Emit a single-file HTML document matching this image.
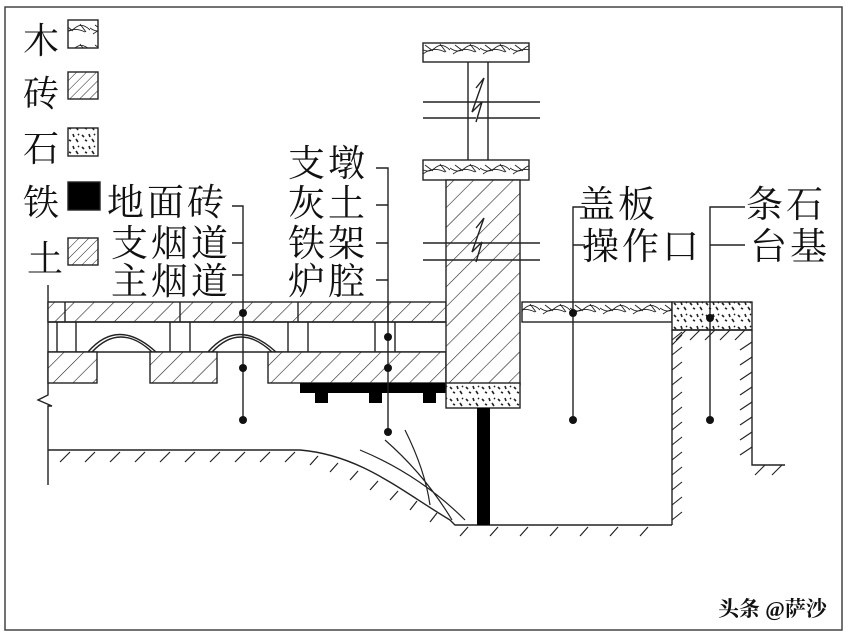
<!DOCTYPE html>
<html><head><meta charset="utf-8"><style>
html,body{margin:0;padding:0;background:#fff;}
svg{display:block;}
text{font-family:"Liberation Serif","Noto Serif CJK SC",serif;fill:#111;}
</style></head><body>
<svg width="850" height="638" viewBox="0 0 850 638" xmlns="http://www.w3.org/2000/svg">
<defs>
<pattern id="h" width="14" height="14" patternUnits="userSpaceOnUse" patternTransform="rotate(45)">
<rect width="14" height="14" fill="#fff"/><line x1="0" y1="0" x2="0" y2="14" stroke="#222" stroke-width="1.2"/></pattern>
<pattern id="hs" width="7" height="7" patternUnits="userSpaceOnUse" patternTransform="rotate(45)">
<rect width="7" height="7" fill="#fff"/><line x1="0" y1="0" x2="0" y2="7" stroke="#222" stroke-width="1"/></pattern>
<pattern id="st" width="16" height="12" patternUnits="userSpaceOnUse">
<rect width="16" height="12" fill="#fff"/><path d="M2 3l2 2M9 2l1 3M5 8l2 1M12 7l2 3M14 2l1 1" stroke="#222" stroke-width="1.6"/></pattern>
<pattern id="wd" width="30" height="20" patternUnits="userSpaceOnUse">
<rect width="30" height="20" fill="#fff"/><path d="M0 8q8 6 15 0t15 2M3 14q10-8 22-2M5 5l8 6M20 4l6 8" stroke="#222" stroke-width="0.9" fill="none"/></pattern>
</defs>
<g stroke="#222" stroke-width="1.4" fill="none">
<rect x="5" y="7" width="837" height="623" stroke="#444" stroke-width="1.5"/>
<rect x="68" y="20" width="30" height="28" fill="url(#wd)"/>
<rect x="68" y="72" width="30" height="27" fill="url(#hs)"/>
<rect x="68" y="128" width="30" height="28" fill="url(#st)"/>
<rect x="68" y="182" width="32" height="28" fill="#000"/>
<rect x="68" y="238" width="30" height="27" fill="url(#hs)"/>
<path d="M48 285V395l-10 5 14 6h-4V485"/>
<rect x="48" y="302" width="398" height="20" fill="url(#h)"/>
<path d="M65 302v20M180 302v20M298 302v20M388 302v20"/>
<path d="M48 322H446M48 352H446" />
<path d="M57 322v30M76 322v30M170 322v30M190 322v30M288 322v30M308 322v30M375 322v30M395 322v30"/>
<rect x="48" y="352" width="49" height="31" fill="url(#h)"/>
<rect x="150" y="352" width="67" height="31" fill="url(#h)"/>
<rect x="268" y="352" width="178" height="31" fill="url(#h)"/>
<path d="M88 352q30-35 68 0M92 352q28-30 60 0M208 352q30-35 68 0M212 352q28-30 60 0"/>
<path d="M300 383h146v10H436v10h-13v-10H382v10h-13v-10H328v10h-13v-10h-15z" fill="#000" stroke="none"/>
<path d="M48 450H300C360 455 400 490 450 520L455 525H672"/>
<path d="M60 462l10-10M85 462l10-10M110 462l10-10M135 462l10-10M160 462l10-10M185 462l10-10M210 462l10-10M235 462l10-10M260 462l10-10M285 462l10-10M310 465l8-9M330 472l8-9M350 480l8-9M370 490l8-9M390 500l8-9M410 510l7-9M430 522l7-9M460 536l8-9M490 536l8-9M520 536l8-9M550 536l8-9M580 536l8-9M610 536l8-9M640 536l8-9" stroke-width="1.2"/>
<path d="M360 450q60 25 105 70M385 440q40 35 67 80M405 430q20 40 25 75" stroke-width="1.2"/>
<rect x="423" y="43" width="106" height="19" fill="url(#wd)"/>
<path d="M468 62V160M488 62V160"/>
<rect x="423" y="160" width="106" height="20" fill="url(#wd)"/>
<path d="M423 102H540M423 118H540"/>
<path d="M476 88l8-10-12 34 10-10-6 20" fill="#fff"/>
<rect x="446" y="180" width="74" height="205" fill="url(#h)"/>
<path d="M423 243H540M423 260H540"/>
<path d="M476 228l8-10-12 34 10-10-6 20"/>
<rect x="446" y="383" width="74" height="25" fill="url(#st)"/>
<rect x="477" y="408" width="13" height="117" fill="#000" stroke="none"/>
<rect x="522" y="302" width="150" height="20" fill="url(#wd)"/>
<rect x="672" y="302" width="80" height="28" fill="url(#st)"/>
<path d="M672 330V525M752 330V465H785M672 330H752"/>
<path d="M676 340l10-10M690 340l10-10M705 340l10-10M720 340l10-10M735 340l10-10M672 345l10-10" stroke-width="1.1"/>
<path d="M672 340l10-8M672 355l10-8M672 370l10-8M672 385l10-8M672 400l10-8M672 415l10-8M672 430l10-8M672 445l10-8M672 460l10-8M672 475l10-8M672 490l10-8M672 505l10-8M672 520l10-8" stroke-width="1.1"/>
<path d="M740 350l12-8M740 365l12-8M740 380l12-8M740 395l12-8M740 410l12-8M740 425l12-8M740 440l12-8M740 455l12-8M755 475l10-10M772 475l10-10" stroke-width="1.1"/>
<path d="M232 206h11V420M232 243h11M232 275h11"/>
<path d="M376 168h12V432M376 205h12M376 243h12M376 280h12"/>
<path d="M585 207h-12V420M585 245h-12"/>
<path d="M745 207h-35V420M745 245h-35"/>
</g>
<g fill="#111">
<circle cx="243" cy="313" r="4"/><circle cx="243" cy="368" r="4"/><circle cx="243" cy="420" r="4"/>
<circle cx="388" cy="337" r="4"/><circle cx="388" cy="368" r="4"/><circle cx="388" cy="432" r="4"/>
<circle cx="573" cy="313" r="4"/><circle cx="573" cy="420" r="4"/>
<circle cx="710" cy="318" r="4"/><circle cx="710" cy="420" r="4"/>
</g>
<g font-size="36">
<text x="23" y="53">木</text><text x="23" y="106">砖</text><text x="23" y="161">石</text><text x="23" y="215">铁</text><text x="27" y="271">土</text>
</g>
<g font-size="37" letter-spacing="3">
<text x="107" y="215">地面砖</text><text x="111" y="256">支烟道</text><text x="111" y="294">主烟道</text>
<text x="288" y="176">支墩</text><text x="288" y="216">灰土</text><text x="288" y="256">铁架</text><text x="288" y="294">炉腔</text>
<text x="578" y="217">盖板</text><text x="582" y="259">操作口</text>
<text x="746" y="217">条石</text><text x="750" y="259">台基</text>
</g>
<text x="718" y="616" font-size="21" font-family="Liberation Sans, Noto Sans CJK SC, sans-serif" font-weight="bold" fill="#333">头条 @萨沙</text>
</svg>
</body></html>
